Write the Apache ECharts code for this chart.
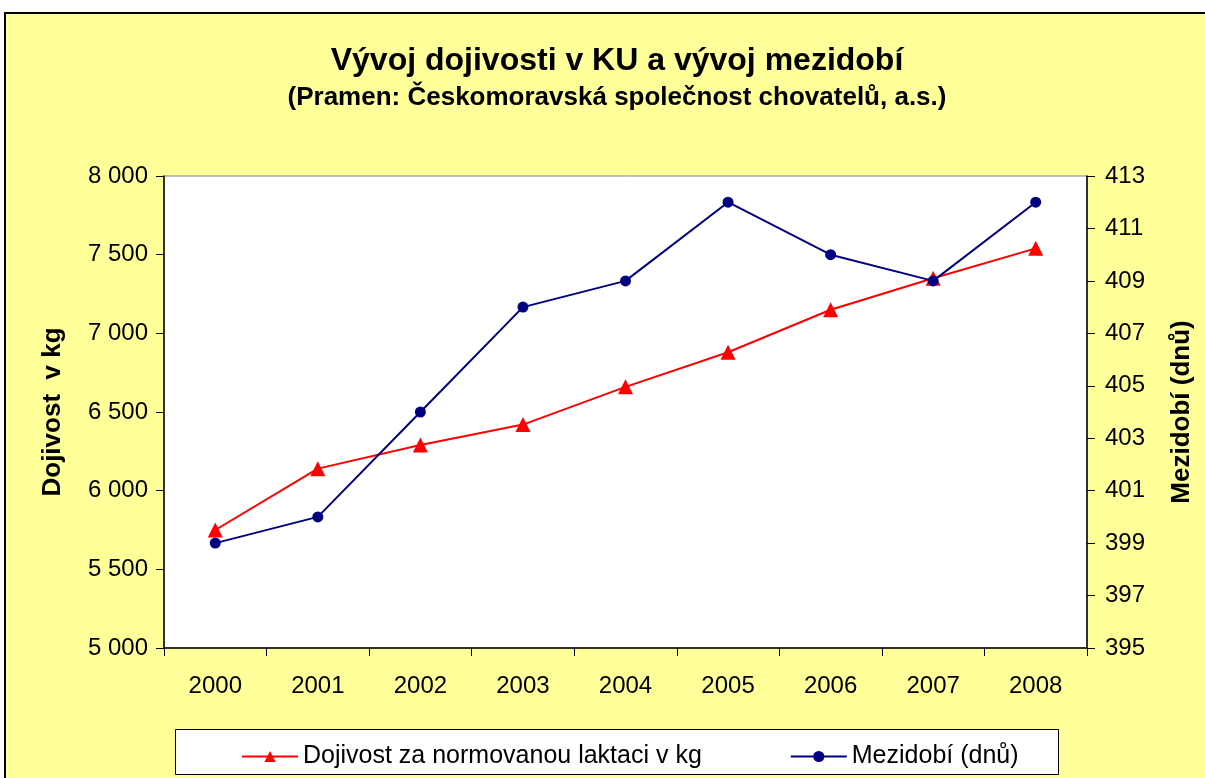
<!DOCTYPE html>
<html>
<head>
<meta charset="utf-8">
<script src="https://cdn.jsdelivr.net/npm/echarts@6/dist/echarts.min.js"></script>
<style>
  body { margin: 0; background: #fff; }
  #frame { position: absolute; left: 4px; top: 12px; width: 1300px; height: 900px;
           background: #FFFF99; border-left: 2px solid #000; border-top: 2px solid #000; }
  #container { position: absolute; left: 0; top: 0; width: 1205px; height: 778px; }
</style>
</head>
<body>
<div id="frame"></div>
<div id="container"></div>
<script>
/* data */
var years = ['2000', '2001', '2002', '2003', '2004', '2005', '2006', '2007', '2008'];
var dojivost = [5750, 6140, 6290, 6420, 6660, 6880, 7150, 7350, 7540];
var mezidobi = [399, 400, 404, 408, 409, 412, 410, 409, 412];

var FONT = 'Liberation Sans, Arial, sans-serif';

/* 8 000 formatting */
function fmt(v) {
    return String(v).replace(/\B(?=(\d{3})+(?!\d))/g, ' ');
}

var myChart = echarts.init(document.getElementById('container'), null, { renderer: 'canvas' });

var option = {
    animation: false,
    backgroundColor: 'transparent',
    textStyle: { fontFamily: FONT },
    graphic: [
        {
            type: 'text', z: 10,
            style: { x: 617, y: 61, text: 'Vývoj dojivosti v KU a vývoj mezidobí',
                     textAlign: 'center', textVerticalAlign: 'middle',
                     font: 'bold 32px ' + FONT, fill: '#000' }
        },
        {
            type: 'text', z: 10,
            style: { x: 617, y: 98, text: '(Pramen: Českomoravská společnost chovatelů, a.s.)',
                     textAlign: 'center', textVerticalAlign: 'middle',
                     font: 'bold 26px ' + FONT, fill: '#000' }
        },
        /*legenda box*/
        {
            type: 'rect', z: 0,
            shape: { x: 175.5, y: 729.5, width: 883, height: 45 },
            style: { fill: '#fff', stroke: '#000', lineWidth: 1 }
        }
    ],
    legend: {
        left: 236,
        top: 739,
        itemWidth: 56,
        itemHeight: 14,
        itemGap: 88,
        textStyle: { fontSize: 25, color: '#000', fontFamily: FONT },
        data: ['Dojivost za normovanou laktaci v kg', 'Mezidobí (dnů)']
    },
    grid: {
        left: 164, right: 118, top: 176, bottom: 130,
        outerBoundsMode: 'none',
        show: true, backgroundColor: '#fff', borderColor: '#808080', borderWidth: 1
    },
    xAxis: {
        type: 'category',
        data: years,
        boundaryGap: true,
        axisLine: { lineStyle: { color: '#000', width: 1.5 } },
        axisTick: { show: true, length: 8, lineStyle: { color: '#000' } },
        axisLabel: { color: '#000', fontSize: 24, margin: 26, fontFamily: FONT },
        splitLine: { show: false }
    },
    yAxis: [
        {
            type: 'value',
            min: 5000, max: 8000, interval: 500,
            position: 'left',
            name: 'Dojivost  v kg',
            nameLocation: 'middle',
            nameRotate: 90,
            nameGap: 98,
            nameTextStyle: { color: '#000', fontSize: 26, fontWeight: 'bold', fontFamily: FONT },
            axisLine: { show: true, lineStyle: { color: '#000', width: 1.5 } },
            axisTick: { show: true, length: 8, lineStyle: { color: '#000' } },
            axisLabel: { color: '#000', fontSize: 24, margin: 16, formatter: fmt, fontFamily: FONT },
            splitLine: { show: false }
        },
        {
            type: 'value',
            min: 395, max: 413, interval: 2,
            position: 'right',
            name: 'Mezidobí (dnů)',
            nameLocation: 'middle',
            nameRotate: 90,
            nameGap: 82,
            nameTextStyle: { color: '#000', fontSize: 26, fontWeight: 'bold', fontFamily: FONT },
            axisLine: { show: true, lineStyle: { color: '#000', width: 1.5 } },
            axisTick: { show: true, length: 8, lineStyle: { color: '#000' } },
            axisLabel: { color: '#000', fontSize: 24, margin: 18, fontFamily: FONT },
            splitLine: { show: false }
        }
    ],
    series: [
        {
            name: 'Dojivost za normovanou laktaci v kg',
            type: 'line',
            yAxisIndex: 0,
            data: dojivost,
            symbol: 'triangle',
            symbolSize: 15,
            itemStyle: { color: '#FF0000' },
            lineStyle: { color: '#FF0000', width: 2 }
        },
        {
            name: 'Mezidobí (dnů)',
            type: 'line',
            yAxisIndex: 1,
            data: mezidobi,
            symbol: 'circle',
            symbolSize: 11,
            itemStyle: { color: '#000080' },
            lineStyle: { color: '#000080', width: 2 }
        }
    ]
};

myChart.setOption(option);
</script>
</body>
</html>
